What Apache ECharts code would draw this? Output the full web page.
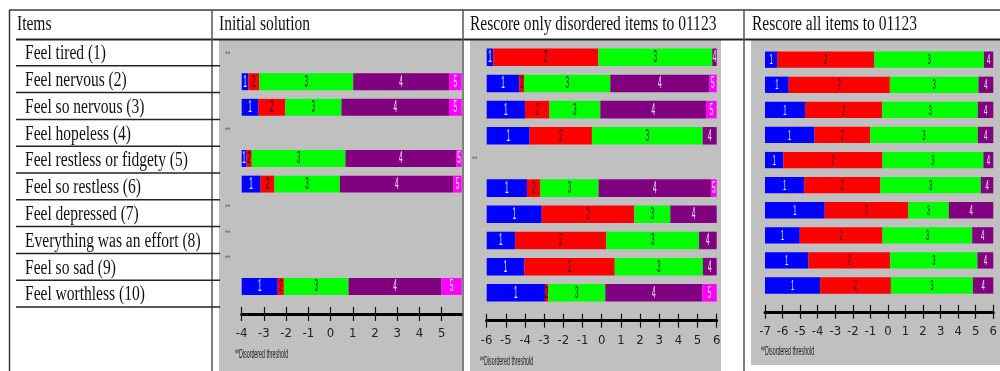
<!DOCTYPE html>
<html>
<head>
<meta charset="utf-8">
<script src="https://cdn.jsdelivr.net/npm/echarts@6/dist/echarts.min.js"></script>
<style>
  html, body { margin: 0; padding: 0; background: #fff; }
  #chart { width: 1000px; height: 371px; }
</style>
</head>
<body>
<div id="chart"></div>
<script>
// ---- data ----
const items = [
  'Feel tired (1)', 'Feel nervous (2)', 'Feel so nervous (3)', 'Feel hopeless (4)',
  'Feel restless or fidgety (5)', 'Feel so restless (6)', 'Feel depressed (7)',
  'Everything was an effort (8)', 'Feel so sad (9)', 'Feel worthless (10)'
];
const panelTitles = ['Initial solution', 'Rescore only disordered items to 01123', 'Rescore all items to 01123'];
const footnote = '**Disordered threshold';

// threshold locations (logits); null = disordered thresholds, no map drawn
const initialThresholds = [
  null,
  [-3.70, -3.21, 1.02, 5.33],
  [-3.25, -2.04, 0.49, 5.33],
  null,
  [-3.78, -3.55, 0.67, 5.65],
  [-3.15, -2.53, 0.42, 5.53],
  null,
  null,
  null,
  [-2.38, -2.10, 0.81, 4.99]
];
const partialRescoreThresholds = [
  [-5.66, -0.18, 5.77],
  [-4.30, -4.05, 0.45, 5.60],
  [-4.00, -2.73, -0.07, 5.44],
  [-3.76, -0.51, 5.27],
  null,
  [-3.90, -3.20, -0.16, 5.70],
  [-3.13, 1.70, 3.58],
  [-4.52, 0.24, 5.08],
  [-4.04, 0.68, 5.28],
  [-2.96, -2.79, 0.19, 5.25]
];
const fullRescoreThresholds = [
  [-6.31, -0.77, 5.47],
  [-5.65, 0.11, 5.16],
  [-4.72, -0.32, 5.12],
  [-4.18, -1.01, 5.12],
  [-5.95, -0.31, 5.44],
  [-4.77, -0.43, 5.29],
  [-3.60, 1.15, 3.47],
  [-5.02, -0.31, 4.80],
  [-4.53, 0.13, 5.10],
  [-3.86, 0.17, 4.84]
];

// axis extents and tick labels of each map
const initialRange = [-4, 5.9];
const partialRescoreRange = [-6, 6];
const fullRescoreRange = [-7, 6];
const initialTicks = [-4, -3, -2, -1, 0, 1, 2, 3, 4, 5];
const partialRescoreTicks = [-6, -5, -4, -3, -2, -1, 0, 1, 2, 3, 4, 5, 6];
const fullRescoreTicks = [-7, -6, -5, -4, -3, -2, -1, 0, 1, 2, 3, 4, 5, 6];

// ---- styling ----
const bandColors = ['#0000ff', '#ff0000', '#00ff00', '#800080', '#ff00ff'];
const bandLabelColors = ['#eef0ff', '#2a0000', '#002400', '#f4ecf4', '#fff4ff'];
const serif = '"Liberation Serif", "Times New Roman", serif';
const narrow = '"Liberation Sans Narrow", "DejaVu Sans Condensed", "Liberation Sans", sans-serif';

const panels = [
  { thresholds: initialThresholds, range: initialRange, ticks: initialTicks,
    grid: { left: 241.7, width: 220, top: 43.3, height: 256 }, axisOffset: 14.7,
    barRatio: 0.66, digitSize: 16, markerDx: -14, gray: [219, 40, 243, 331], note: [235, 355] },
  { thresholds: partialRescoreThresholds, range: partialRescoreRange, ticks: partialRescoreTicks,
    grid: { left: 486.7, width: 230, top: 44.2, height: 261.7 }, axisOffset: 14.8,
    barRatio: 0.67, digitSize: 16, markerDx: -12, gray: [470, 40, 251, 331], note: [480, 361.5] },
  { thresholds: fullRescoreThresholds, range: fullRescoreRange, ticks: fullRescoreTicks,
    grid: { left: 765, width: 231.7, top: 47.15, height: 250.9 }, axisOffset: 13.7,
    barRatio: 0.65, digitSize: 15, markerDx: -12, gray: [751, 40, 249, 325], note: [761, 352] }
];

function bandData(thresholds, range) {
  const out = [];
  thresholds.forEach((t, row) => {
    if (!t) return;
    const edges = [range[0], ...t, range[1]];
    for (let k = 0; k < edges.length - 1; k++) out.push([edges[k], row, edges[k + 1], k]);
  });
  return out;
}
function disorderedData(thresholds, range) {
  const out = [];
  thresholds.forEach((t, row) => { if (!t) out.push([range[0], row]); });
  return out;
}

function makeBandRenderer(p) {
  return function (params, api) {
    const start = api.coord([api.value(0), api.value(1)]);
    const end = api.coord([api.value(2), api.value(1)]);
    const k = api.value(3);
    const h = api.size([0, 1])[1] * p.barRatio;
    return {
      type: 'group',
      children: [
        { type: 'rect', shape: { x: start[0], y: start[1] - h / 2, width: end[0] - start[0], height: h },
          style: { fill: bandColors[k] } },
        { type: 'text', x: (start[0] + end[0]) / 2, y: start[1] + 0.5, scaleX: 0.4,
          style: { text: String(k + 1), fill: bandLabelColors[k], fontSize: p.digitSize,
                   fontFamily: '"Liberation Sans", sans-serif', align: 'center', verticalAlign: 'middle' } }
      ]
    };
  };
}
function makeMarkerRenderer(p) {
  return function (params, api) {
    const pt = api.coord([api.value(0), api.value(1)]);
    return { type: 'text', x: pt[0] + p.markerDx, y: pt[1] - 2, scaleX: 0.7,
      style: { text: '**', fill: '#555', fontSize: 9, fontFamily: '"Liberation Sans", sans-serif',
               align: 'center', verticalAlign: 'middle' } };
  };
}

const grid = [], xAxis = [], yAxis = [], series = [];
panels.forEach((p, i) => {
  grid.push(Object.assign({ containLabel: false }, p.grid));
  yAxis.push({ gridIndex: i, type: 'category', data: items, inverse: true, show: false });
  // axis with labels, line and downward ticks
  xAxis.push({
    gridIndex: i, type: 'value', min: p.range[0], max: p.range[1], interval: 1,
    position: 'bottom', offset: p.axisOffset, z: 4,
    axisLine: { show: true, onZero: false, lineStyle: { color: '#000', width: 3 } },
    axisTick: { show: true, inside: false, length: 7, customValues: p.ticks,
                lineStyle: { color: '#111', width: 1.2 } },
    axisLabel: { show: true, margin: 13, fontSize: 13, color: '#222', fontFamily: narrow,
                 customValues: p.ticks },
    splitLine: { show: false }
  });
  // companion axis carrying the upward half of each tick
  xAxis.push({
    gridIndex: i, type: 'value', min: p.range[0], max: p.range[1], interval: 1,
    position: 'bottom', offset: p.axisOffset, z: 4,
    axisLine: { show: false, onZero: false },
    axisTick: { show: true, inside: true, length: 7, customValues: p.ticks,
                lineStyle: { color: '#111', width: 1.2 } },
    axisLabel: { show: false },
    splitLine: { show: false }
  });
  series.push({
    type: 'custom', xAxisIndex: i * 2, yAxisIndex: i, z: 2, clip: false,
    renderItem: makeBandRenderer(p),
    encode: { x: [0, 2], y: 1 },
    data: bandData(p.thresholds, p.range)
  });
  series.push({
    type: 'custom', xAxisIndex: i * 2, yAxisIndex: i, z: 2, clip: false,
    renderItem: makeMarkerRenderer(p),
    encode: { x: 0, y: 1 },
    data: disorderedData(p.thresholds, p.range)
  });
});

// ---- table frame, headings and item names ----
const graphic = [];
panels.forEach(p => {
  graphic.push({ type: 'rect', z: -1, shape: { x: p.gray[0], y: p.gray[1], width: p.gray[2], height: p.gray[3] },
                 style: { fill: '#c0c0c0' } });
  graphic.push({ type: 'text', z: 5, x: p.note[0], y: p.note[1], scaleX: 0.44,
                 style: { text: footnote, fill: '#222', fontSize: 12, fontFamily: '"Liberation Sans", sans-serif',
                          verticalAlign: 'middle' } });
});
const frame = '#3a3a3a';
graphic.push({ type: 'line', z: 6, shape: { x1: 9, y1: 10, x2: 1000, y2: 10 }, style: { stroke: frame, lineWidth: 1.5 } });
graphic.push({ type: 'line', z: 6, shape: { x1: 9.5, y1: 10, x2: 9.5, y2: 371 }, style: { stroke: frame, lineWidth: 1.5 } });
graphic.push({ type: 'line', z: 6, shape: { x1: 16, y1: 39.5, x2: 1000, y2: 39.5 }, style: { stroke: '#222', lineWidth: 2 } });
[212, 463, 744].forEach(x => {
  graphic.push({ type: 'line', z: 6, shape: { x1: x, y1: 10, x2: x, y2: 371 }, style: { stroke: '#555', lineWidth: 1.5 } });
});
const rowTop = 39, rowH = 26.8;
items.forEach((name, i) => {
  const yLine = rowTop + rowH * (i + 1);
  graphic.push({ type: 'line', z: 6, shape: { x1: 16, y1: yLine, x2: 220, y2: yLine }, style: { stroke: '#222', lineWidth: 1.5 } });
  graphic.push({ type: 'text', z: 6, x: 25, y: rowTop + rowH * (i + 0.5) + 1.5, scaleX: 0.776,
                 style: { text: name, fill: '#111', font: '20px ' + serif, verticalAlign: 'middle' } });
});
graphic.push({ type: 'text', z: 6, x: 17, y: 25, scaleX: 0.776,
               style: { text: 'Items', fill: '#111', font: '20px ' + serif, verticalAlign: 'middle' } });
[219, 470, 752].forEach((x, i) => {
  graphic.push({ type: 'text', z: 6, x: x, y: 25, scaleX: 0.776,
                 style: { text: panelTitles[i], fill: '#111', font: '20px ' + serif, verticalAlign: 'middle' } });
});

const chart = echarts.init(document.getElementById('chart'), null, { renderer: 'canvas' });
chart.setOption({
  animation: false,
  backgroundColor: '#fff',
  grid, xAxis, yAxis, series, graphic
});
</script>
</body>
</html>
